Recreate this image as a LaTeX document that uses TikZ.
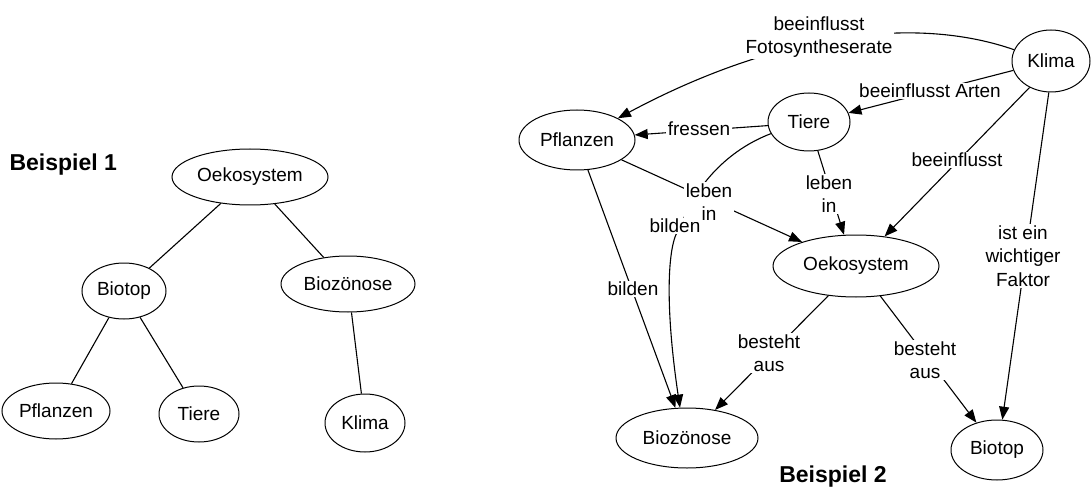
\documentclass[tikz,border=0pt]{standalone}
\usepackage{fontspec}
\setmainfont{Liberation Sans}
\usetikzlibrary{arrows.meta,shapes.geometric}
\pgfdeclarelayer{edges}
\pgfsetlayers{edges,main}
\begin{document}
\begin{tikzpicture}[x=1pt,y=-1pt,
  ell/.style={ellipse, draw, line width=1pt, fill=white, inner sep=0pt, font=\fontsize{19}{22}\selectfont},
  lbl/.style={fill=white, inner sep=1.5pt, align=center, font=\fontsize{19}{23.5}\selectfont},
  edge/.style={line width=1.1pt},
  arr/.style={edge, -{Triangle[length=13pt,width=10pt]}},
  title/.style={font=\fontsize{23}{26}\selectfont\bfseries}]
\useasboundingbox (0,0) rectangle (1092,489);

% ---------- Beispiel 1 ----------
\node[title, anchor=west] (t1) at (6,165) {Beispiel 1};
\node[ell, minimum width=156pt, minimum height=56pt] (oeko1) at (250,177) {Oekosystem};
\node[ell, minimum width=84pt, minimum height=56pt] (biotop1) at (124,291) {Biotop};
\node[ell, minimum width=134pt, minimum height=56pt] (bioz1) at (348,284) {Biozönose};
\node[ell, minimum width=108pt, minimum height=56pt] (pfl1) at (56,411) {Pflanzen};
\node[ell, minimum width=80pt, minimum height=56pt] (tiere1) at (199,414) {Tiere};
\node[ell, minimum width=80pt, minimum height=58pt] (klima1) at (365,423) {Klima};

\begin{pgfonlayer}{edges}
\draw[edge] (oeko1) -- (biotop1);
\draw[edge] (oeko1) -- (bioz1);
\draw[edge] (biotop1) -- (pfl1);
\draw[edge] (biotop1) -- (tiere1);
\draw[edge] (bioz1) -- (klima1);
\end{pgfonlayer}

% ---------- Beispiel 2 ----------
\node[title] (t2) at (833,477) {Beispiel 2};
\node[ell, minimum width=116pt, minimum height=60pt] (pfl2) at (577,140) {Pflanzen};
\node[ell, minimum width=82pt, minimum height=58pt] (tiere2) at (809,122) {Tiere};
\node[ell, minimum width=166pt, minimum height=62pt] (oeko2) at (856,266) {Oekosystem};
\node[ell, minimum width=142pt, minimum height=60pt] (bioz2) at (687,438) {Biozönose};
\node[ell, minimum width=92pt, minimum height=60pt] (biotop2) at (997,450) {Biotop};
\node[ell, minimum width=78pt, minimum height=62pt] (klima2) at (1051,61) {Klima};

% labels
\node[lbl] (lf) at (819,37) {beeinflusst\\Fotosyntheserate};
\node[lbl] (la) at (930,91) {beeinflusst Arten};
\node[lbl] (lfr) at (699,129) {fressen};
\node[lbl] (lb1) at (675,226) {bilden};
\node[lbl] (ll1) at (709,202) {leben\\in};
\node[lbl] (ll2) at (829,194) {leben\\in};
\node[lbl] (lbe) at (957,160) {beeinflusst};
\node[lbl] (lw) at (1023,256) {ist ein\\wichtiger\\Faktor};
\node[lbl] (lb2) at (633,289) {bilden};
\node[lbl] (lba1) at (769,353) {besteht\\aus};
\node[lbl] (lba2) at (925,360) {besteht\\aus};

\begin{pgfonlayer}{edges}
\draw[arr] (klima2.163) .. controls (903,11) and (760,42) .. (pfl2.28);
\draw[arr] (klima2.194) -- (tiere2.13);
\draw[arr] (tiere2.185) -- (pfl2.5);
\draw[arr] (pfl2.-24) -- (oeko2.156);
\draw[arr] (tiere2.-73) -- (oeko2.111);
\draw[arr] (klima2.231) -- (oeko2.46);
\draw[arr] (klima2.266) -- (biotop2.80);
\draw[arr] (tiere2.197) .. controls (728,150) and (695,185) .. (680,228)
  .. controls (668,240) and (664,300) .. (bioz2.103);
\draw[arr] (pfl2.-70) -- (bioz2.111);
\draw[arr] (oeko2.227) -- (bioz2.45);
\draw[arr] (oeko2.-51) -- (biotop2.127);
\end{pgfonlayer}
\end{tikzpicture}
\end{document}
